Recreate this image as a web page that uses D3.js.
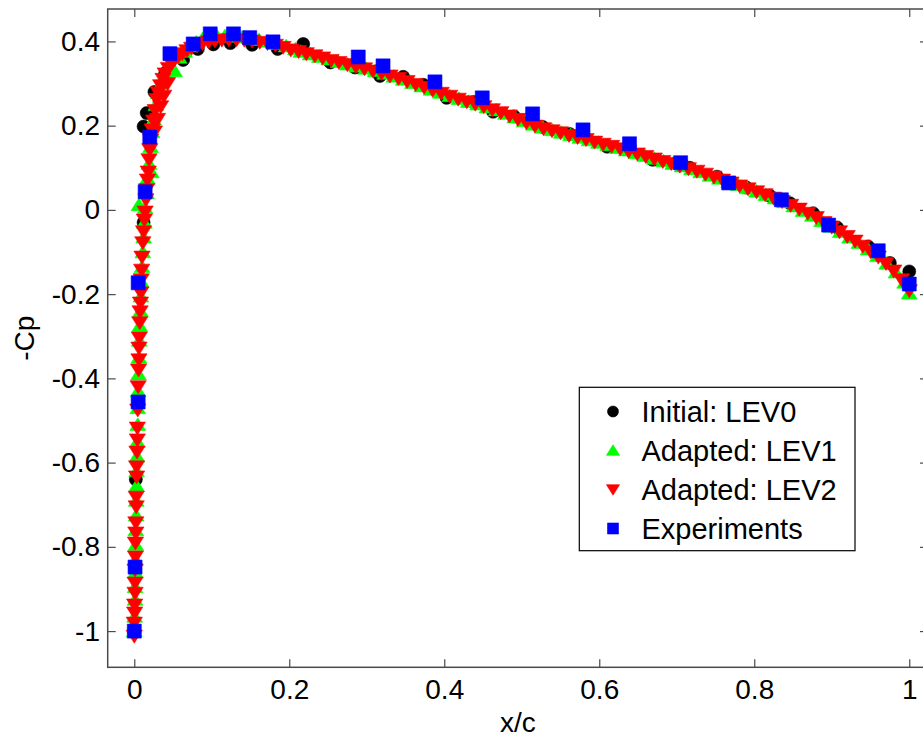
<!DOCTYPE html>
<html><head><meta charset="utf-8">
<script src="https://cdn.jsdelivr.net/npm/d3@7"></script>
<style>
body{margin:0;background:#fff}
svg{display:block}
text{font-family:"Liberation Sans",Arial,Helvetica,sans-serif;fill:#000}
</style>
</head><body>
<svg id="chart" width="923" height="736"></svg>
<script>
// ---- data ----
const xTicks = [0, 0.2, 0.4, 0.6, 0.8, 1];
const xTickLabels = ["0", "0.2", "0.4", "0.6", "0.8", "1"];
const yTicks = [-1, -0.8, -0.6, -0.4, -0.2, 0, 0.2, 0.4];
const yTickLabels = ["-1", "-0.8", "-0.6", "-0.4", "-0.2", "0", "0.2", "0.4"];
const xLabel = "x/c";
const yLabel = "-Cp";
const seriesNames = ["Initial: LEV0", "Adapted: LEV1", "Adapted: LEV2", "Experiments"];

// Initial: LEV0 [x/c, -Cp]
const lev0 = [
  [0.000,-1.000],[0.002,-0.640],[0.012,-0.030],[0.012,0.198],[0.016,0.230],[0.026,0.280],
  [0.040,0.325],[0.063,0.356],[0.082,0.382],[0.102,0.393],[0.124,0.396],[0.152,0.392],
  [0.185,0.382],[0.218,0.394],[0.253,0.350],[0.285,0.338],[0.317,0.318],[0.347,0.316],
  [0.373,0.297],[0.403,0.266],[0.438,0.256],[0.463,0.233],[0.490,0.222],[0.527,0.197],
  [0.562,0.180],[0.610,0.150],[0.640,0.141],[0.669,0.119],[0.717,0.100],[0.752,0.079],
  [0.790,0.053],[0.820,0.034],[0.846,0.016],[0.876,-0.008],[0.907,-0.042],[0.947,-0.087],
  [0.975,-0.126],[1.000,-0.146]
];

// Adapted: LEV1
const lev1 = [
  [0.000,-1.000],[0.0005,-0.965],[0.001,-0.925],[0.001,-0.895],[0.0015,-0.860],[0.0015,-0.830],
  [0.002,-0.795],[0.002,-0.760],[0.0025,-0.725],[0.0025,-0.690],[0.003,-0.655],[0.003,-0.620],
  [0.0035,-0.585],[0.004,-0.550],[0.0045,-0.510],[0.0045,-0.470],[0.005,-0.430],[0.0055,-0.390],
  [0.006,-0.350],[0.0065,-0.310],[0.007,-0.275],[0.008,-0.240],[0.0085,-0.205],[0.009,-0.170],
  [0.010,-0.135],[0.011,-0.100],[0.012,-0.065],[0.013,-0.030],[0.006,0.012],[0.014,0.005],
  [0.016,0.040],[0.017,0.075],[0.022,0.090],[0.019,0.110],[0.021,0.150],[0.023,0.185],
  [0.025,0.215],[0.028,0.250],[0.031,0.278],[0.035,0.300],[0.040,0.322],[0.046,0.338],
  [0.052,0.330],[0.058,0.362],[0.065,0.376],[0.072,0.389],[0.080,0.398],[0.088,0.406],
  [0.097,0.410],[0.107,0.412],[0.117,0.413],[0.128,0.412],[0.139,0.410],[0.150,0.407],
  [0.161,0.404],[0.172,0.400],[0.184,0.395],[0.196,0.389],[0.208,0.382],
  [0.215,0.376],[0.227,0.370],[0.239,0.364],[0.251,0.358],[0.263,0.352],[0.275,0.346],
  [0.287,0.341],[0.299,0.336],[0.311,0.330],[0.323,0.324],[0.335,0.317],[0.347,0.310],
  [0.359,0.302],[0.371,0.294],[0.383,0.286],[0.395,0.279],[0.407,0.271],[0.419,0.264],
  [0.431,0.257],[0.443,0.251],[0.455,0.244],[0.467,0.237],[0.479,0.229],[0.491,0.220],
  [0.503,0.211],[0.515,0.203],[0.527,0.196],[0.539,0.190],[0.551,0.184],[0.563,0.178],
  [0.575,0.172],[0.587,0.166],[0.599,0.160],[0.611,0.154],[0.623,0.148],[0.635,0.142],
  [0.647,0.135],[0.659,0.129],[0.671,0.122],[0.683,0.116],[0.695,0.110],[0.707,0.104],
  [0.719,0.097],[0.731,0.090],[0.743,0.082],[0.755,0.075],[0.767,0.067],[0.779,0.060],
  [0.791,0.052],[0.803,0.044],[0.815,0.036],[0.827,0.028],[0.839,0.019],[0.851,0.009],
  [0.863,-0.002],[0.875,-0.013],[0.887,-0.026],[0.899,-0.039],[0.911,-0.052],[0.923,-0.065],
  [0.935,-0.078],[0.947,-0.093],[0.959,-0.109],[0.971,-0.127],[0.983,-0.148],[0.994,-0.172],
  [1.000,-0.198]
];

// Adapted: LEV2
const lev2 = [
  [0.000,-1.012],[0.000,-0.981],[0.0005,-0.957],[0.0005,-0.938],[0.001,-0.910],[0.001,-0.886],
  [0.001,-0.855],[0.0015,-0.824],[0.0015,-0.791],[0.002,-0.767],[0.002,-0.743],[0.0025,-0.705],
  [0.0025,-0.682],[0.003,-0.634],[0.003,-0.610],[0.0035,-0.575],[0.004,-0.546],[0.004,-0.518],
  [0.0045,-0.475],[0.005,-0.420],[0.0055,-0.380],[0.006,-0.356],[0.006,-0.328],[0.0065,-0.304],
  [0.007,-0.268],[0.0075,-0.242],[0.008,-0.221],[0.0085,-0.197],[0.009,-0.166],[0.0095,-0.143],
  [0.010,-0.112],[0.011,-0.078],[0.012,-0.052],[0.013,-0.024],[0.014,-0.005],[0.015,0.024],
  [0.016,0.048],[0.017,0.071],[0.018,0.090],[0.019,0.119],[0.020,0.143],[0.021,0.166],
  [0.023,0.190],[0.026,0.185],[0.025,0.211],[0.030,0.215],[0.027,0.236],[0.034,0.245],
  [0.029,0.262],[0.038,0.270],[0.031,0.278],[0.034,0.295],[0.043,0.300],
  [0.037,0.310],[0.040,0.323],[0.044,0.336],[0.048,0.347],[0.052,0.356],[0.057,0.364],
  [0.062,0.371],[0.068,0.378],[0.074,0.384],[0.081,0.390],[0.088,0.395],[0.096,0.399],
  [0.104,0.401],[0.113,0.403],[0.122,0.404],[0.132,0.404],[0.142,0.403],[0.152,0.401],
  [0.162,0.398],[0.172,0.395],[0.182,0.391],[0.192,0.386],[0.202,0.380],
  [0.212,0.376],[0.222,0.371],[0.233,0.366],[0.243,0.361],[0.254,0.355],[0.264,0.350],
  [0.275,0.345],[0.286,0.340],[0.297,0.335],[0.308,0.330],[0.319,0.324],[0.330,0.318],
  [0.341,0.312],[0.352,0.305],[0.363,0.298],[0.374,0.291],[0.385,0.284],[0.396,0.277],
  [0.407,0.270],[0.418,0.263],[0.429,0.257],[0.440,0.251],[0.451,0.245],[0.462,0.238],
  [0.473,0.231],[0.484,0.223],[0.495,0.215],[0.506,0.207],[0.517,0.199],[0.528,0.193],
  [0.539,0.188],[0.550,0.183],[0.561,0.177],[0.572,0.172],[0.583,0.167],[0.594,0.161],
  [0.605,0.156],[0.616,0.151],[0.627,0.145],[0.638,0.139],[0.649,0.133],[0.660,0.127],
  [0.671,0.121],[0.682,0.115],[0.693,0.110],[0.704,0.104],[0.715,0.098],[0.726,0.092],
  [0.737,0.085],[0.748,0.078],[0.759,0.071],[0.770,0.064],[0.781,0.057],[0.792,0.050],
  [0.803,0.043],[0.814,0.036],[0.825,0.028],[0.836,0.020],[0.847,0.011],[0.858,0.002],
  [0.869,-0.008],[0.880,-0.018],[0.890,-0.030],[0.900,-0.041],[0.910,-0.052],[0.920,-0.063],
  [0.930,-0.074],[0.940,-0.086],[0.950,-0.099],[0.960,-0.112],[0.970,-0.127],[0.980,-0.145],
  [0.990,-0.166],[1.000,-0.192]
];

// Experiments
const experiments = [
  [0.000,-1.000],[0.001,-0.848],[0.005,-0.456],[0.005,-0.173],[0.014,0.043],[0.020,0.173],
  [0.046,0.371],[0.076,0.394],[0.098,0.418],[0.128,0.418],[0.149,0.409],[0.179,0.399],
  [0.289,0.363],[0.321,0.342],[0.388,0.304],[0.449,0.266],[0.514,0.228],[0.579,0.190],
  [0.639,0.157],[0.705,0.112],[0.767,0.064],[0.835,0.024],[0.896,-0.036],[0.960,-0.097],
  [1.000,-0.176]
];

// ---- drawing ----
const W = 923, H = 736;
const svg = d3.select("#chart");
svg.append("rect").attr("width", W).attr("height", H).attr("fill", "#fff");

const x = d3.scaleLinear().domain([-0.0343, 1.0242]).range([107.7, 928]);
const y = d3.scaleLinear().domain([-1.086, 0.477]).range([667.3, 9]);
const [x0, x1] = x.range();
const [y0, y1] = y.range();
const axisColor = "#4a4a4a";
const fontSize = 28;

function markerPath(type, s) {
  if (type === "circle") {
    return d3.symbol(d3.symbolCircle, Math.PI * s * s)();
  }
  if (type === "square") {
    return `M${-s},${-s}H${s}V${s}H${-s}Z`;
  }
  const w = s * 1.1, h = s * 0.95;
  if (type === "up") {
    return `M0,${-h}L${w},${h * 0.85}L${-w},${h * 0.85}Z`;
  }
  return `M0,${h}L${w},${-h * 0.85}L${-w},${-h * 0.85}Z`;
}

const series = [
  {name: seriesNames[0], data: lev0, type: "circle", color: "#000000", size: 6.5, lsize: 5.5},
  {name: seriesNames[1], data: lev1, type: "up", color: "#00ff00", size: 7.2, lsize: 6},
  {name: seriesNames[2], data: lev2, type: "down", color: "#ff0000", size: 7.4, lsize: 6},
  {name: seriesNames[3], data: experiments, type: "square", color: "#0000ff", size: 7, lsize: 5.5}
];

const plot = svg.append("g");
series.forEach(s => {
  plot.append("g").selectAll("path").data(s.data).join("path")
    .attr("d", markerPath(s.type, s.size))
    .attr("transform", d => `translate(${x(d[0])},${y(d[1])})`)
    .attr("fill", s.color)
    .attr("stroke", s.color)
    .attr("stroke-width", 0.6);
});

const tickLen = 8;
const gx = svg.append("g").attr("transform", `translate(0,${y0})`)
  .call(d3.axisBottom(x).tickValues(xTicks).tickFormat((d, i) => xTickLabels[i])
    .tickSizeInner(-tickLen).tickSizeOuter(0).tickPadding(12));
const gy = svg.append("g").attr("transform", `translate(${x0},0)`)
  .call(d3.axisLeft(y).tickValues(yTicks).tickFormat((d, i) => yTickLabels[i])
    .tickSizeInner(-tickLen).tickSizeOuter(0).tickPadding(7.7));
const gxt = svg.append("g").attr("transform", `translate(0,${y1})`)
  .call(d3.axisTop(x).tickValues(xTicks).tickFormat("").tickSizeInner(-tickLen).tickSizeOuter(0));
const gyr = svg.append("g").attr("transform", `translate(${x1},0)`)
  .call(d3.axisRight(y).tickValues(yTicks).tickFormat("").tickSizeInner(-tickLen).tickSizeOuter(0));

[gx, gy, gxt, gyr].forEach(g => {
  g.select(".domain").remove();
  g.selectAll(".tick line").attr("stroke", axisColor).attr("stroke-width", 1.2);
  g.selectAll(".tick text").attr("font-size", fontSize).attr("fill", "#000")
    .style("font-family", '"Liberation Sans", Arial, sans-serif');
});

svg.append("rect")
  .attr("x", x0).attr("y", y1).attr("width", x1 - x0).attr("height", y0 - y1)
  .attr("fill", "none").attr("stroke", axisColor).attr("stroke-width", 1.5);

svg.append("text").attr("x", (x0 + x1) / 2).attr("y", 731.5)
  .attr("text-anchor", "middle").attr("font-size", fontSize).text(xLabel);
svg.append("text").attr("transform", `translate(34,${(y0 + y1) / 2}) rotate(-90)`)
  .attr("text-anchor", "middle").attr("font-size", fontSize).text(yLabel);

const lg = svg.append("g");
lg.append("rect").attr("x", 579.3).attr("y", 387.3).attr("width", 275.7).attr("height", 163.4)
  .attr("fill", "#fff").attr("stroke", "#000").attr("stroke-width", 1.2);
const rowY = [411.5, 450.5, 489.5, 528.5];
series.forEach((s, i) => {
  lg.append("path").attr("d", markerPath(s.type, s.lsize))
    .attr("transform", `translate(613,${rowY[i]})`)
    .attr("fill", s.color).attr("stroke", s.color).attr("stroke-width", 0.6);
  lg.append("text").attr("x", 641.5).attr("y", rowY[i] + 10.3)
    .attr("font-size", 29).text(s.name);
});
</script>
</body></html>
